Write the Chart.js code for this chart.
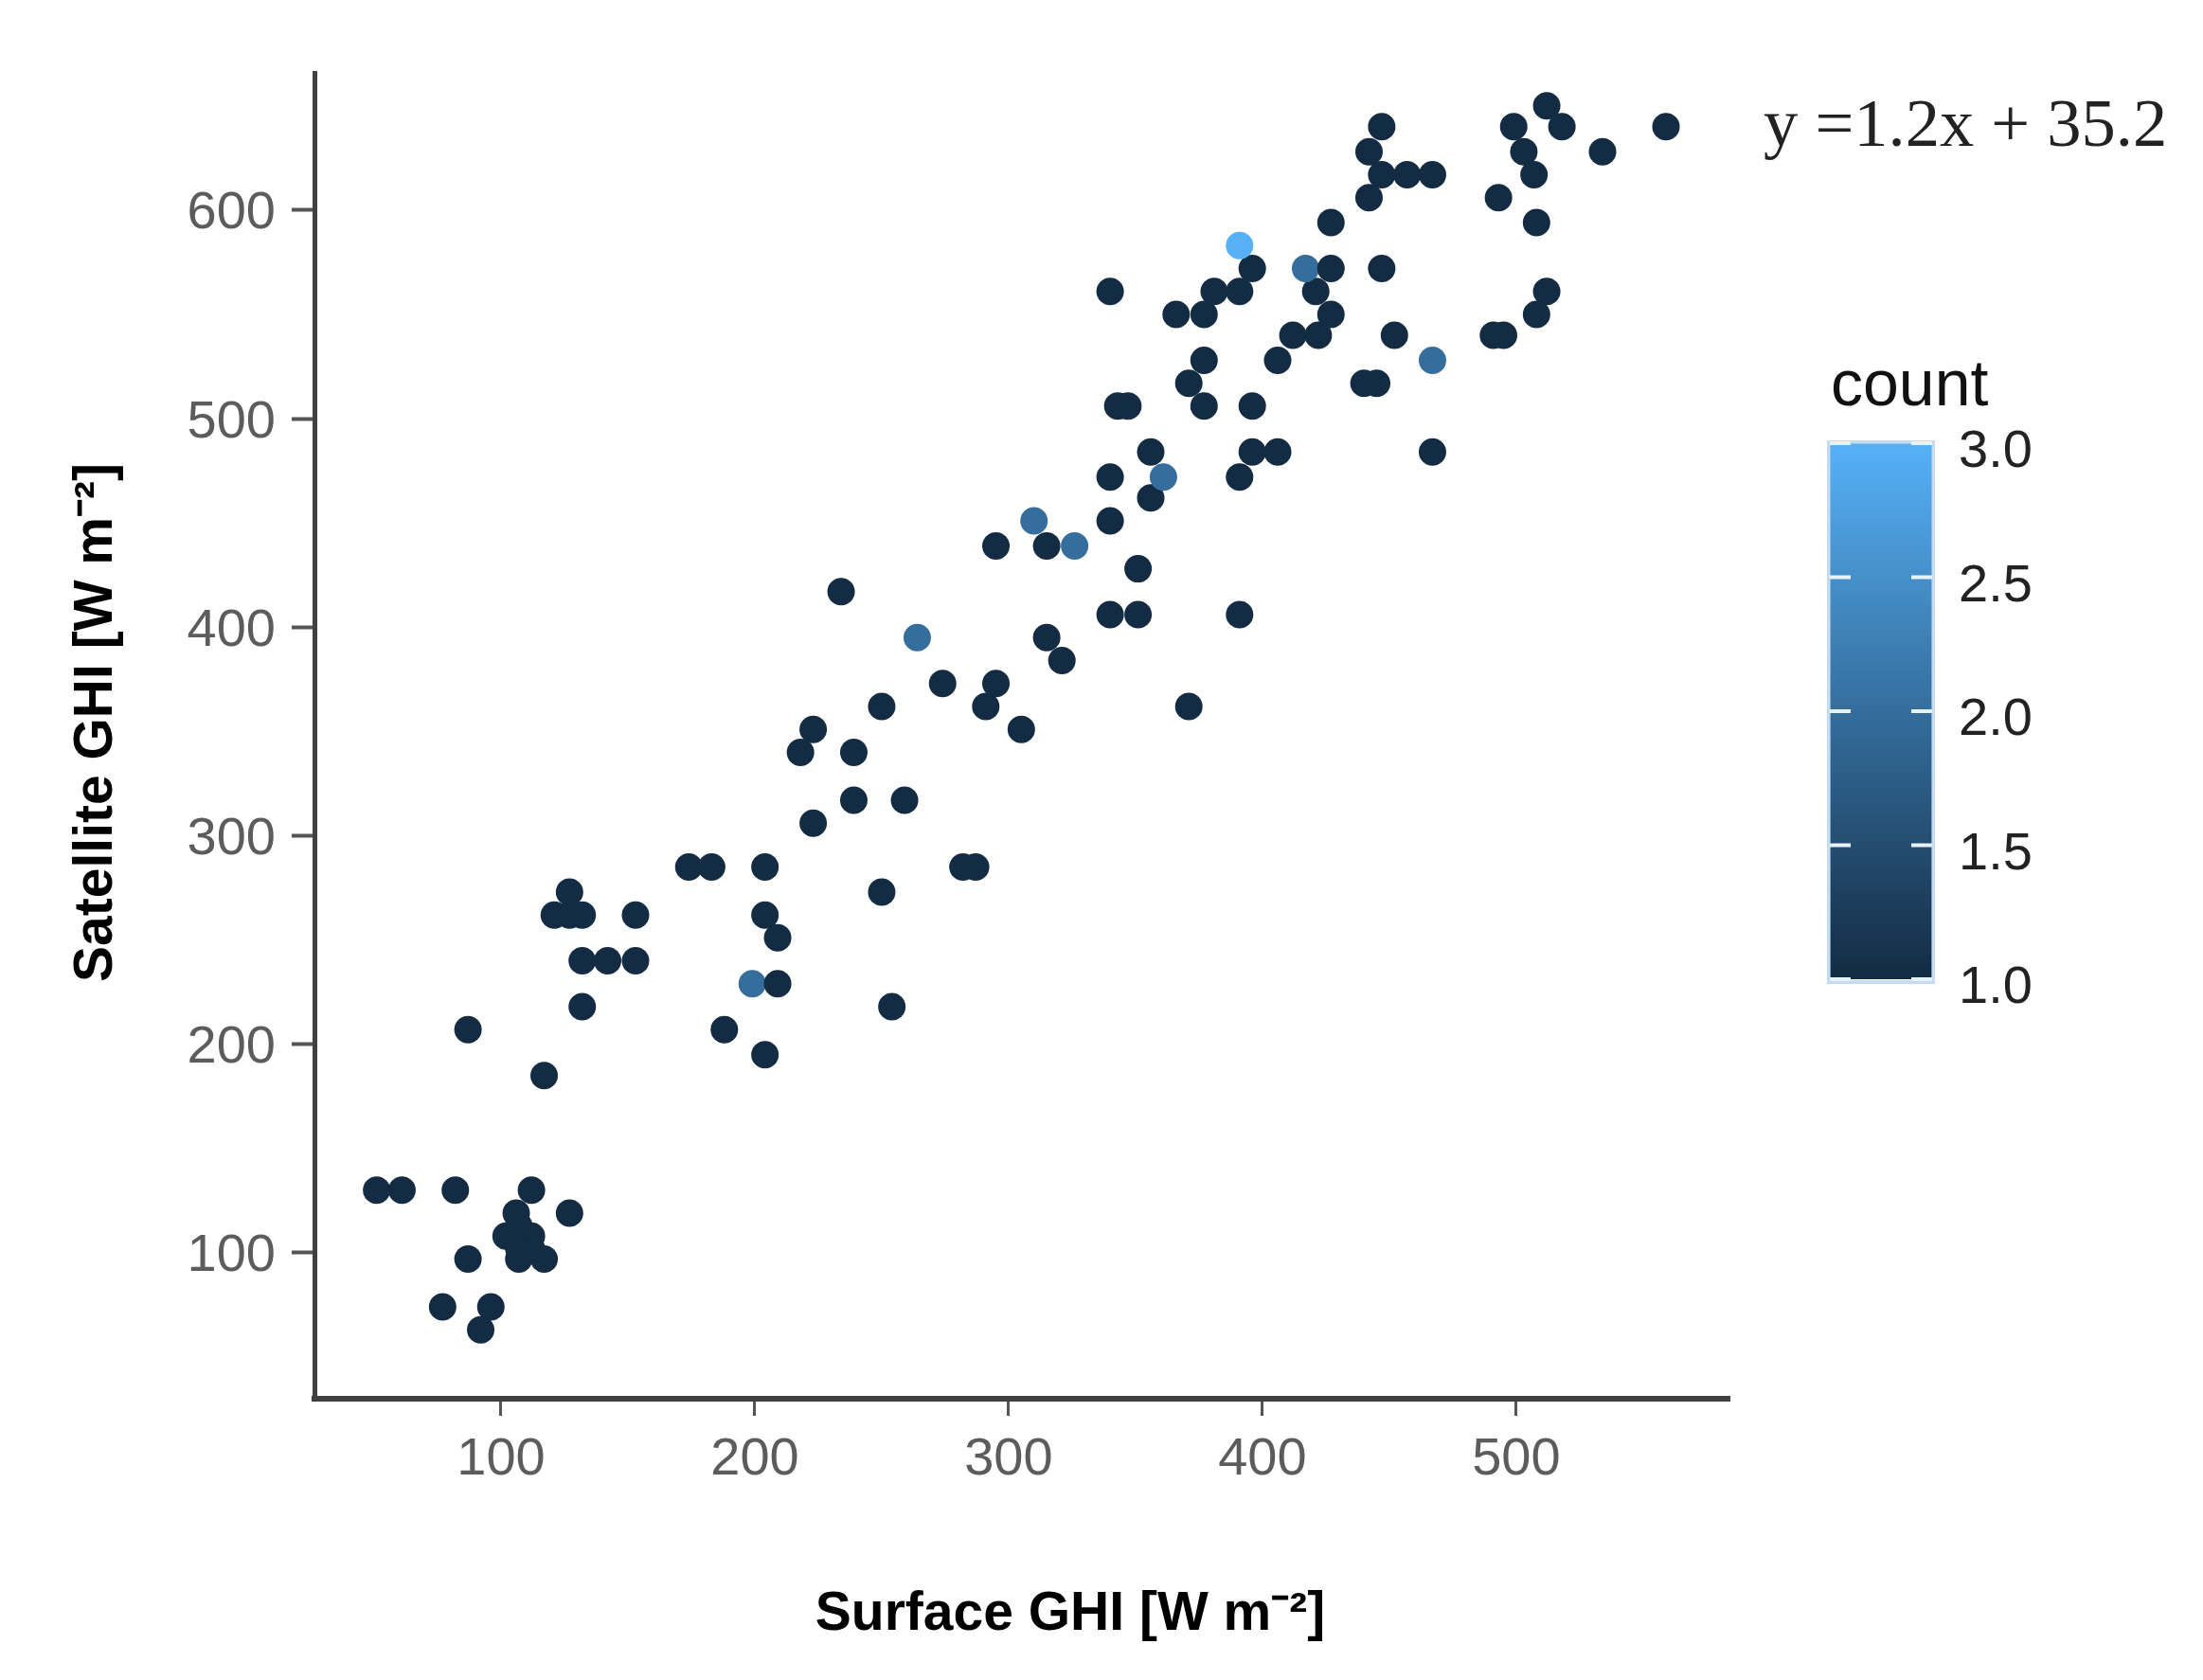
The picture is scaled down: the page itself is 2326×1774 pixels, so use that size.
<!DOCTYPE html>
<html>
<head>
<meta charset="utf-8">
<title>Satellite vs surface GHI</title>
<style>
  html, body { margin: 0; padding: 0; background: #fff; }
  canvas { display: block; }
</style>
<script src="https://cdn.jsdelivr.net/npm/chart.js@4"></script>
</head>
<body>
<canvas id="scatter" width="2326" height="1774"></canvas>
<script>
// values, same order in all three arrays
var surfaceGhi = [
    51, 61, 82, 112, 127, 106, 102, 107, 112, 107, 117, 112, 107, 107, 87, 77, 96, 92,
    117, 87, 204, 188, 132, 254, 199, 209, 132, 142, 153, 204, 209, 121, 127, 132,
    127, 153, 174, 183, 204, 282, 287, 250, 223, 239, 259, 218, 239, 223, 305, 250,
    291, 371, 274, 295, 321, 315, 264, 234, 340, 351, 391, 351, 295, 315, 326, 310,
    340, 356, 361, 356, 340, 396, 406, 391, 467, 343, 347, 377, 396, 371, 440, 445,
    377, 406, 467, 412, 422, 452, 491, 495, 366, 377, 427, 512, 508, 381, 391, 340,
    421, 396, 417, 427, 447, 391, 427, 442, 447, 457, 467, 442, 447, 499, 503, 507,
    493, 508, 512, 518, 534, 559
];
var satelliteGhi = [
    130, 130, 130, 130, 119, 119, 108, 108, 108, 97, 97, 102, 102, 113, 97, 74, 74, 63,
    185, 207, 195, 207, 218, 218, 229, 229, 240, 240, 240, 262, 251, 262, 262, 262,
    273, 262, 285, 285, 285, 285, 285, 273, 306, 317, 317, 340, 340, 351, 351, 362,
    362, 362, 373, 373, 384, 395, 395, 417, 406, 406, 406, 428, 439, 439, 439, 451,
    451, 462, 472, 484, 472, 484, 484, 472, 484, 506, 506, 506, 506, 517, 517, 517,
    528, 528, 528, 540, 540, 540, 540, 540, 550, 550, 550, 561, 550, 561, 561, 561,
    561, 572, 572, 572, 572, 583, 594, 628, 617, 617, 617, 606, 640, 640, 628, 617,
    606, 594, 650, 640, 628, 640
];
var pointCount = [
    1, 1, 1, 1, 1, 1, 1, 1, 1, 1, 1, 1, 1, 1, 1, 1, 1, 1,
    1, 1, 1, 1, 1, 1, 2, 1, 1, 1, 1, 1, 1, 1, 1, 1,
    1, 1, 1, 1, 1, 1, 1, 1, 1, 1, 1, 1, 1, 1, 1, 1,
    1, 1, 1, 1, 1, 1, 2, 1, 1, 1, 1, 1, 1, 1, 2, 2,
    1, 1, 2, 1, 1, 1, 1, 1, 1, 1, 1, 1, 1, 1, 1, 1,
    1, 1, 2, 1, 1, 1, 1, 1, 1, 1, 1, 1, 1, 1, 1, 1,
    1, 1, 2, 1, 1, 3, 1, 1, 1, 1, 1, 1, 1, 1, 1, 1,
    1, 1, 1, 1, 1, 1
];
var xTickValues = [100, 200, 300, 400, 500];
var yTickValues = [100, 200, 300, 400, 500, 600];
var countTicks = [1.0, 1.5, 2.0, 2.5, 3.0];

var sansFont = '"Liberation Sans", Arial, sans-serif';
var LOW = [19, 43, 67], HIGH = [86, 177, 247];

function countColor(c) {
    var t = (c - 1) / 2;
    var rgb = LOW.map(function (v, i) { return Math.round(v + (HIGH[i] - v) * t); });
    return "rgb(" + rgb.join(",") + ")";
}

var points = surfaceGhi.map(function (x, i) {
    return { x: x, y: satelliteGhi[i] };
});

// titles, equation and colour bar sit outside the axes' own layout
var extras = {
    id: "extras",
    afterDraw: function (chart) {
        var ctx = chart.ctx;
        ctx.save();
        ctx.textBaseline = "alphabetic";

        ctx.fillStyle = "#000";
        ctx.font = "bold 57px " + sansFont;
        ctx.textAlign = "center";
        ctx.fillText("Surface GHI [W m\u207B\u00B2]", 1130, 1721);
        ctx.save();
        ctx.translate(118, 763);
        ctx.rotate(-Math.PI / 2);
        ctx.fillText("Satellite GHI [W m\u207B\u00B2]", 0, 0);
        ctx.restore();

        ctx.textAlign = "left";
        ctx.fillStyle = "#222";
        ctx.font = '72.5px "Liberation Serif", serif';
        ctx.fillText("y =1.2x + 35.2", 1862, 154);

        ctx.fillStyle = "#111";
        ctx.font = "68px " + sansFont;
        ctx.fillText("count", 1933, 428);

        var left = 1932, right = 2040, top = 468, bottom = 1034;
        var grad = ctx.createLinearGradient(0, bottom, 0, top);
        grad.addColorStop(0, countColor(1));
        grad.addColorStop(1, countColor(3));
        ctx.fillStyle = grad;
        ctx.fillRect(left, top, right - left, bottom - top);
        ctx.strokeStyle = "rgba(170,205,235,0.7)";
        ctx.lineWidth = 4;
        ctx.strokeRect(left - 1, top - 1, right - left + 2, bottom - top + 4);

        ctx.font = "56px " + sansFont;
        countTicks.forEach(function (c) {
            var y = bottom - (c - 1) / 2 * (bottom - top);
            ctx.fillStyle = "#e6f3fc";
            ctx.fillRect(left, y - 2, 22, 4);
            ctx.fillRect(right - 22, y - 2, 22, 4);
            ctx.fillStyle = "#222";
            ctx.fillText(c.toFixed(1), 2068, y + 25);
        });
        ctx.restore();
    },
};

new Chart(document.getElementById("scatter").getContext("2d"), {
    type: "scatter",
    data: {
        datasets: [
            {
                label: "count",
                data: points,
                backgroundColor: pointCount.map(countColor),
                pointRadius: 14.5,
                pointHoverRadius: 14.5,
                borderWidth: 0,
            },
        ],
    },
    options: {
        responsive: false,
        animation: false,
        devicePixelRatio: 1,
        layout: { padding: { top: 77, right: 500, bottom: 0, left: 0 } },
        plugins: { legend: { display: false }, tooltip: { enabled: false } },
        scales: {
            x: {
                min: 26.5,
                max: 584,
                afterFit: function (s) { s.height = 297; },
                afterBuildTicks: function (s) {
                    s.ticks = xTickValues.map(function (v) { return { value: v }; });
                },
                border: { color: "#404040", width: 6 },
                grid: { drawOnChartArea: false, tickLength: 18, tickWidth: 3, tickColor: "#555" },
                ticks: { color: "#5c5c5c", padding: 13, maxRotation: 0, font: { family: sansFont, size: 56 } },
            },
            y: {
                min: 30,
                max: 665.8,
                afterFit: function (s) { s.width = 332; },
                afterBuildTicks: function (s) {
                    s.ticks = yTickValues.map(function (v) { return { value: v }; });
                },
                border: { color: "#404040", width: 5 },
                grid: { drawOnChartArea: false, tickLength: 24, tickWidth: 4, tickColor: "#555" },
                ticks: { color: "#5c5c5c", padding: 17, labelOffset: 4, font: { family: sansFont, size: 56 } },
            },
        },
    },
    plugins: [extras],
});
</script>
</body>
</html>
